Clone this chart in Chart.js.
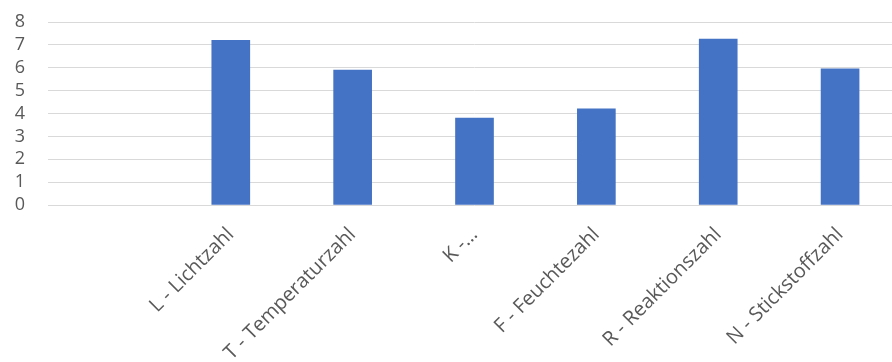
<!DOCTYPE html>
<html>
<head>
<meta charset="utf-8">
<script src="https://cdn.jsdelivr.net/npm/chart.js@4/dist/chart.umd.min.js"></script>
<style>
  html, body { margin: 0; padding: 0; background: #fff; overflow: hidden; }
  #wrap { width: 901px; height: 362px; }
</style>
</head>
<body>
<div id="wrap"><canvas id="zeigerChart" width="901" height="362"></canvas></div>
<script>
// Zeigerwerte (mittlere Werte je Kategorie)
const categories = ['', 'L - Lichtzahl', 'T - Temperaturzahl', 'K -…', 'F - Feuchtezahl', 'R - Reaktionszahl', 'N - Stickstoffzahl'];
const values = [null, 7.2, 5.9, 3.8, 4.2, 7.25, 5.95];
const yTicks = [0, 1, 2, 3, 4, 5, 6, 7, 8];

const textColor = '#595959';
const gridColor = '#d9d9d9';

let ctx = document.getElementById('zeigerChart').getContext('2d');
let zeigerChart = new Chart(ctx, {
  type: 'bar',
  data: {
    labels: categories,
    datasets: [{
      data: values,
      backgroundColor: '#4472c4',
      borderWidth: 0,
      barThickness: 38
    }]
  },
  options: {
    responsive: false,
    animation: false,
    layout: { padding: { top: 22, left: 0, right: 0, bottom: 0 } },
    plugins: {
      legend: { display: false },
      tooltip: { enabled: false }
    },
    scales: {
      x: {
        grid: { display: false, drawTicks: false },
        border: { display: false },
        ticks: {
          color: textColor,
          font: { family: 'Open Sans', size: 20 },
          minRotation: 45,
          maxRotation: 45,
          autoSkip: false,
          padding: 18
        },
        afterFit: function(scale) {
          scale.height = 157;
          scale.paddingLeft = 0;
          scale.paddingRight = 0;
        }
      },
      y: {
        min: 0,
        max: 8,
        afterBuildTicks: function(scale) {
          scale.ticks = yTicks.map(v => ({ value: v }));
        },
        grid: { color: gridColor, lineWidth: 1, drawTicks: false },
        border: { display: false },
        ticks: {
          color: textColor,
          font: { family: 'Open Sans', size: 18 },
          autoSkip: false,
          padding: 23
        },
        afterFit: function(scale) {
          scale.width = 48;
          scale.paddingTop = 0;
          scale.paddingBottom = 0;
        }
      }
    }
  }
});
</script>
</body>
</html>
